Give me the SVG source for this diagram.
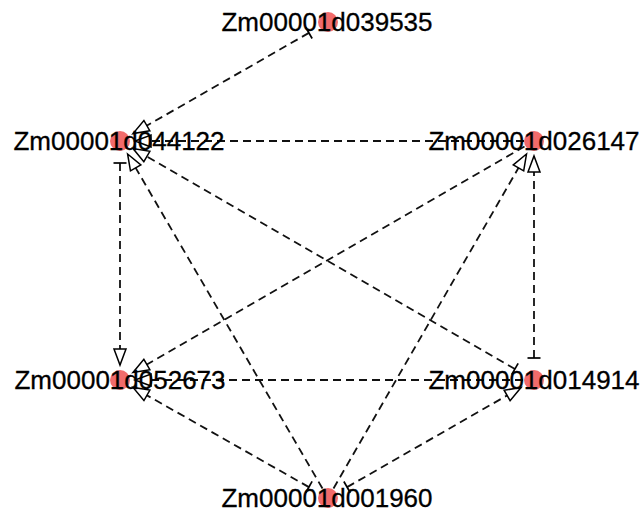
<svg xmlns="http://www.w3.org/2000/svg" width="644" height="515" viewBox="0 0 644 515">
  <style>
    .edge { fill: none; stroke: #111; stroke-width: 1.8; stroke-dasharray: 8 5; }
    .act { marker-end: url(#tri); }
    .inh { marker-start: url(#bar); }
    .dot { fill: #f26b6b; }
    .lbl { font-family: "Liberation Sans", Arial, sans-serif; font-size: 26px; fill: #000; text-anchor: middle; stroke: #000; stroke-width: 0.3; }
  </style>
  <defs>
    <!-- open triangle head, tip at the path end -->
    <marker id="tri" viewBox="0 -7 16 14" refX="16" refY="0" markerWidth="16" markerHeight="14" markerUnits="userSpaceOnUse" orient="auto" overflow="visible">
      <path d="M0,-6 L16,0 L0,6 Z" fill="#fff" stroke="#000" stroke-width="1.5" stroke-linejoin="miter"/>
    </marker>
    <!-- flat bar head at the path start -->
    <marker id="bar" viewBox="-1 -7 2 14" refX="0" refY="0" markerWidth="2" markerHeight="14" markerUnits="userSpaceOnUse" orient="auto" overflow="visible">
      <path d="M0,-6.5 L0,6.5" stroke="#000" stroke-width="1.7"/>
    </marker>
  </defs>
  <rect width="644" height="515" fill="#fff"/>

  <g id="edges">
    <path class="edge inh act" d="M308.9,32.9 L133.0,133.6"/>
    <path class="edge act" d="M524,141 L135,141"/>
    <path class="edge inh act" d="M120,163 L120,365"/>
    <path class="edge inh act" d="M534,358 L534,156"/>
    <path class="edge act" d="M523,380 L135,380"/>
    <path class="edge inh act" d="M514.9,369 L133.0,148.5"/>
    <path class="edge act" d="M524.5,146.5 L133.0,372.5"/>
    <path class="edge act" d="M322.5,488.5 L127.6,154.0"/>
    <path class="edge act" d="M333.5,488.5 L526.5,154.0"/>
    <path class="edge inh act" d="M308.9,487.1 L133.0,387.4"/>
    <path class="edge inh act" d="M347.1,487.1 L521.0,387.5"/>
  </g>

  <g id="Zm00001d039535">
    <circle class="dot" cx="328" cy="22" r="10"/>
    <text class="lbl" x="327" y="31">Zm00001d039535</text>
  </g>
  <g id="Zm00001d044122">
    <circle class="dot" cx="120" cy="141" r="10"/>
    <text class="lbl" x="119" y="150">Zm00001d044122</text>
  </g>
  <g id="Zm00001d026147">
    <circle class="dot" cx="534" cy="141" r="10"/>
    <text class="lbl" x="534" y="150">Zm00001d026147</text>
  </g>
  <g id="Zm00001d052673">
    <circle class="dot" cx="120" cy="380" r="10"/>
    <text class="lbl" x="120" y="389">Zm00001d052673</text>
  </g>
  <g id="Zm00001d014914">
    <circle class="dot" cx="534" cy="380" r="10"/>
    <text class="lbl" x="534" y="389">Zm00001d014914</text>
  </g>
  <g id="Zm00001d001960">
    <circle class="dot" cx="328" cy="498" r="10"/>
    <text class="lbl" x="327" y="507">Zm00001d001960</text>
  </g>
</svg>
